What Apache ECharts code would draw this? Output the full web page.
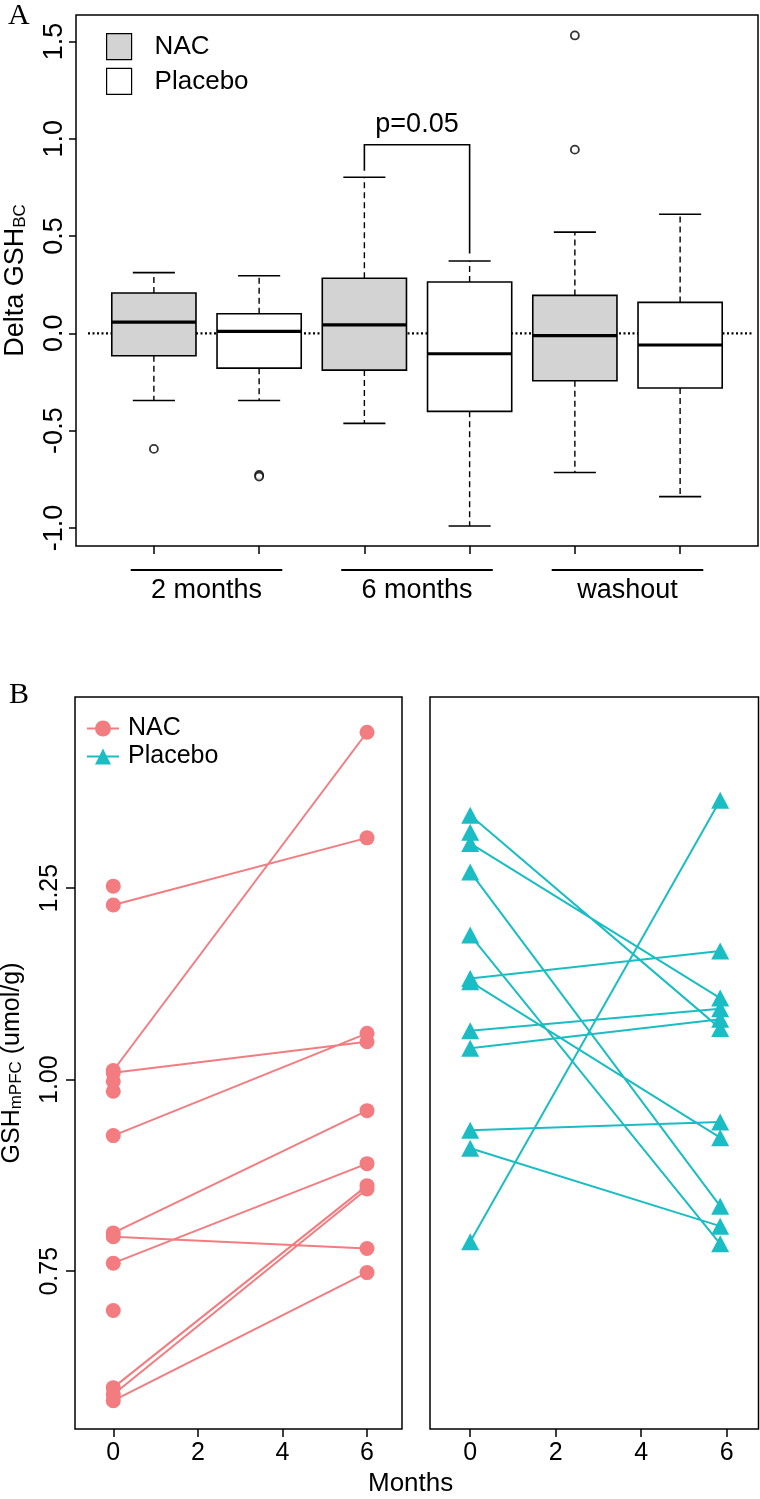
<!DOCTYPE html>
<html><head><meta charset="utf-8">
<script src="https://cdn.jsdelivr.net/npm/echarts@6/dist/echarts.min.js"></script>
<style>html,body{margin:0;padding:0;background:#fff}#c{width:760px;height:1499px}</style>
</head><body><div id="c"></div>
<script>
// ---------- Panel A data ----------
const groups = ['2 months', '6 months', 'washout'];
// [lower whisker, Q1, median, Q3, upper whisker]
const nacBox = [
  [-0.345, -0.115, 0.058, 0.207, 0.312],
  [-0.463, -0.189, 0.043, 0.283, 0.802],
  [-0.715, -0.244, -0.012, 0.195, 0.520]
];
const placeboBox = [
  [-0.345, -0.179, 0.010, 0.101, 0.296],
  [-0.990, -0.401, -0.105, 0.264, 0.372],
  [-0.839, -0.281, -0.060, 0.159, 0.612]
];
const nacOutliers = [[-0.594], [], [1.531, 0.944]];
const placeboOutliers = [[-0.728, -0.736], [], []];
const yTicksA = [-1.0, -0.5, 0.0, 0.5, 1.0, 1.5];
const pLabel = 'p=0.05';
const pGroup = 1;                 // 6 months
const pBracket = [0.969, 0.836, 0.41]; // top, left end, right end

// ---------- Panel B data ----------
const monthTicks = [0, 2, 4, 6];
const yTicksB = [0.75, 1.00, 1.25];
const nacStartMonth = 0, nacEndMonth = 6;
const nacStart = [1.228, 1.012, 1.009, 0.927, 0.800, 0.795, 0.7605, 0.598, 0.589, 0.581];
const nacEnd   = [1.3157, 1.4536, 1.0496, 1.0605, 0.9596, 0.7796, 0.8904, 0.8617, 0.8574, 0.7482];
const nacBaselineOnly = [1.2527, 0.998, 0.985, 0.6987];
const placeboStartMonth = 0, placeboEndMonth = 5.85;
const placeboStart = [1.3453, 1.3084, 1.2713, 1.1888, 1.132, 1.128, 1.064, 1.041, 0.934, 0.9105, 0.7886];
const placeboEnd   = [1.067, 1.1066, 0.8349, 0.7857, 1.1679, 0.9243, 1.0926, 1.0788, 0.9448, 0.8088, 1.3649];
const placeboBaselineOnly = [1.3231];

// ---------- styling ----------
const F = '"Liberation Sans", Arial, Helvetica, sans-serif';
const SERIF = '"Liberation Serif", "Times New Roman", serif';
const NAC_COL = '#F27C80';
const PLA_COL = '#1ABDC3';
const NAC_FILL = '#d3d3d3';

const nacPos = i => 2 * i + 1;
const plaPos = i => 2 * i + 2;

function boxRender(fill) {
  return function (params, api) {
    const x = api.value(0);
    const lo = api.value(1), q1 = api.value(2), md = api.value(3), q3 = api.value(4), hi = api.value(5);
    const c = (a, b) => api.coord([a, b]);
    const half = 0.4, capHalf = 0.2;
    const dash = { stroke: '#000', lineWidth: 1.4, lineDash: [6, 4], fill: null };
    const solid = { stroke: '#000', lineWidth: 1.6, fill: null };
    const ln = (p1, p2, st) => ({ type: 'line', shape: { x1: p1[0], y1: p1[1], x2: p2[0], y2: p2[1] }, style: st });
    const tl = c(x - half, q3), br = c(x + half, q1);
    return {
      type: 'group',
      children: [
        ln(c(x, q3), c(x, hi), dash),
        ln(c(x, q1), c(x, lo), dash),
        ln(c(x - capHalf, hi), c(x + capHalf, hi), solid),
        ln(c(x - capHalf, lo), c(x + capHalf, lo), solid),
        { type: 'rect', shape: { x: tl[0], y: tl[1], width: br[0] - tl[0], height: br[1] - tl[1] },
          style: { fill: fill, stroke: '#000', lineWidth: 1.6 } },
        ln(c(x - half, md), c(x + half, md), { stroke: '#000', lineWidth: 3.2 })
      ]
    };
  };
}

function pairData(startM, endM, starts, ends, singles) {
  const d = [];
  starts.forEach((s, i) => { d.push([startM, s]); d.push([endM, ends[i]]); d.push([startM, '-']); });
  singles.forEach(s => { d.push([startM, s]); d.push([startM, '-']); });
  return d;
}

const outlierData = [];
nacOutliers.forEach((arr, i) => arr.forEach(v => outlierData.push([nacPos(i), v])));
placeboOutliers.forEach((arr, i) => arr.forEach(v => outlierData.push([plaPos(i), v])));

const chart = echarts.init(document.getElementById('c'), null, { renderer: 'canvas' });

const tickLabel = (size) => ({ fontSize: size, fontFamily: F, color: '#000' });
const noLine = { show: false, onZero: false };
const gridBase = { show: true, borderColor: '#000', borderWidth: 1.5, backgroundColor: 'transparent',
  containLabel: false, outerBoundsMode: 'none' };

const option = {
  animation: false,
  backgroundColor: '#fff',
  grid: [
    { ...gridBase, left: 76, top: 15, width: 682, height: 531 },
    { ...gridBase, left: 75, top: 697, width: 327, height: 732 },
    { ...gridBase, left: 430, top: 697, width: 328.5, height: 732 }
  ],
  xAxis: [
    { gridIndex: 0, type: 'value', min: 0.26, max: 6.74, position: 'bottom',
      axisLine: noLine, splitLine: { show: false },
      axisTick: { show: true, length: 8, lineStyle: { color: '#000', width: 1.5 }, customValues: [1, 2, 3, 4, 5, 6] },
      axisLabel: { show: true, margin: 31, customValues: [1.5, 3.5, 5.5],
        formatter: v => groups[Math.round((v - 1.5) / 2)], ...tickLabel(27) } },
    { gridIndex: 1, type: 'value', min: -0.905, max: 6.827, position: 'bottom',
      axisLine: noLine, splitLine: { show: false },
      axisTick: { show: true, length: 8, lineStyle: { color: '#000', width: 1.5 }, customValues: monthTicks },
      axisLabel: { show: true, margin: 12, customValues: monthTicks, formatter: v => String(v), ...tickLabel(25) } },
    { gridIndex: 2, type: 'value', min: -0.941, max: 6.747, position: 'bottom',
      axisLine: noLine, splitLine: { show: false },
      axisTick: { show: true, length: 8, lineStyle: { color: '#000', width: 1.5 }, customValues: monthTicks },
      axisLabel: { show: true, margin: 12, customValues: monthTicks, formatter: v => String(v), ...tickLabel(25) } }
  ],
  yAxis: [
    { gridIndex: 0, type: 'value', min: -1.093, max: 1.636, position: 'left',
      axisLine: noLine, splitLine: { show: false },
      axisTick: { show: true, length: 7, lineStyle: { color: '#000', width: 1.5 }, customValues: yTicksA },
      axisLabel: { show: true, rotate: 90, margin: 8, customValues: yTicksA, formatter: v => v.toFixed(1), ...tickLabel(27) },
      name: '{a|Delta GSH}{s|BC}', nameLocation: 'middle', nameRotate: 90, nameGap: 47,
      nameTextStyle: { rich: {
        a: { fontSize: 27, fontFamily: F, color: '#000', verticalAlign: 'bottom', lineHeight: 30 },
        s: { fontSize: 17, fontFamily: F, color: '#000', verticalAlign: 'bottom', lineHeight: 14 } } } },
    { gridIndex: 1, type: 'value', min: 0.544, max: 1.4996, position: 'left',
      axisLine: noLine, splitLine: { show: false },
      axisTick: { show: true, length: 9, lineStyle: { color: '#000', width: 1.5 }, customValues: yTicksB },
      axisLabel: { show: true, rotate: 90, margin: 12, customValues: yTicksB, formatter: v => v.toFixed(2), ...tickLabel(25) },
      name: '{a|GSH}{s|mPFC}{a| (umol/g)}', nameLocation: 'middle', nameRotate: 90, nameGap: 50,
      nameTextStyle: { rich: {
        a: { fontSize: 25, fontFamily: F, color: '#000', verticalAlign: 'bottom', lineHeight: 30 },
        s: { fontSize: 17, fontFamily: F, color: '#000', verticalAlign: 'bottom', lineHeight: 14 } } } },
    { gridIndex: 2, type: 'value', min: 0.544, max: 1.4996, position: 'left',
      axisLine: noLine, splitLine: { show: false }, axisTick: { show: false }, axisLabel: { show: false } }
  ],
  legend: [
    { data: [
        { name: 'NAC (A)', icon: 'rect', itemStyle: { color: NAC_FILL, borderColor: '#000', borderWidth: 1.2 } },
        { name: 'Placebo (A)', icon: 'rect', itemStyle: { color: '#fff', borderColor: '#000', borderWidth: 1.2 } }
      ],
      orient: 'vertical', left: 106, top: 33, itemWidth: 25, itemHeight: 26, itemGap: 7.6, padding: 0,
      selectedMode: false, formatter: n => n.replace(' (A)', ''),
      textStyle: { fontSize: 26, fontFamily: F, color: '#000', lineHeight: 26, padding: [0, 0, 0, 18] } },
    { data: ['NAC', 'Placebo'],
      orient: 'vertical', left: 86, top: 716, itemWidth: 32, itemHeight: 20, itemGap: 3, padding: 0,
      selectedMode: false,
      textStyle: { fontSize: 25, fontFamily: F, color: '#000', lineHeight: 25, padding: [0, 0, 0, 4] } }
  ],
  series: [
    { type: 'custom', name: 'zero', xAxisIndex: 0, yAxisIndex: 0, z: 1, silent: true,
      data: [[0]],
      renderItem: (params, api) => {
        const cs = params.coordSys;
        const y = api.coord([1, api.value(0)])[1];
        return { type: 'line', shape: { x1: cs.x + 12, y1: y, x2: cs.x + cs.width - 6, y2: y },
          style: { stroke: '#000', lineWidth: 2.4, lineDash: [2, 2.5] } };
      } },
    { type: 'custom', name: 'NAC (A)', xAxisIndex: 0, yAxisIndex: 0, z: 3,
      itemStyle: { color: NAC_FILL },
      encode: { x: 0, y: [1, 2, 3, 4, 5] },
      data: nacBox.map((b, i) => [nacPos(i), ...b]),
      renderItem: boxRender(NAC_FILL) },
    { type: 'custom', name: 'Placebo (A)', xAxisIndex: 0, yAxisIndex: 0, z: 3,
      itemStyle: { color: '#fff' },
      encode: { x: 0, y: [1, 2, 3, 4, 5] },
      data: placeboBox.map((b, i) => [plaPos(i), ...b]),
      renderItem: boxRender('#fff') },
    { type: 'scatter', name: 'outliers', xAxisIndex: 0, yAxisIndex: 0, z: 4,
      symbol: 'circle', symbolSize: 8,
      itemStyle: { color: '#fff', borderColor: '#000', borderWidth: 1.8 },
      data: outlierData },
    { type: 'custom', name: 'bracket', xAxisIndex: 0, yAxisIndex: 0, z: 4, silent: true,
      data: [[nacPos(pGroup), plaPos(pGroup), ...pBracket]],
      renderItem: (params, api) => {
        const x1 = api.value(0), x2 = api.value(1), top = api.value(2), e1 = api.value(3), e2 = api.value(4);
        const a = api.coord([x1, e1]), b = api.coord([x1, top]), cc = api.coord([x2, top]), d = api.coord([x2, e2]);
        return { type: 'group', children: [
          { type: 'polyline', shape: { points: [a, b, cc, d] }, style: { stroke: '#000', lineWidth: 1.6, fill: null } },
          { type: 'text', style: { text: pLabel, x: (b[0] + cc[0]) / 2, y: b[1] - 7, align: 'center', verticalAlign: 'bottom',
            font: '27px ' + F, fill: '#000' } }
        ] };
      } },
    { type: 'custom', name: 'groupLines', xAxisIndex: 0, yAxisIndex: 0, z: 4, silent: true,
      data: groups.map((g, i) => [nacPos(i) + 0.5]),
      renderItem: (params, api) => {
        const cs = params.coordSys;
        const x = api.value(0);
        const l = api.coord([x - 0.72, 0])[0], r = api.coord([x + 0.72, 0])[0];
        const y = cs.y + cs.height + 24;
        return { type: 'line', shape: { x1: l, y1: y, x2: r, y2: y }, style: { stroke: '#000', lineWidth: 2.2 } };
      } },
    { type: 'line', name: 'NAC', xAxisIndex: 1, yAxisIndex: 1, z: 3,
      symbol: 'circle', symbolSize: 15, connectNulls: false,
      itemStyle: { color: NAC_COL, borderWidth: 0 },
      lineStyle: { color: NAC_COL, width: 2 },
      data: pairData(nacStartMonth, nacEndMonth, nacStart, nacEnd, nacBaselineOnly) },
    { type: 'line', name: 'Placebo', xAxisIndex: 2, yAxisIndex: 2, z: 3,
      symbol: 'triangle', symbolSize: [18, 17], connectNulls: false,
      itemStyle: { color: PLA_COL, borderWidth: 0 },
      lineStyle: { color: PLA_COL, width: 2 },
      data: pairData(placeboStartMonth, placeboEndMonth, placeboStart, placeboEnd, placeboBaselineOnly) }
  ],
  graphic: [
    { type: 'text', left: 8, top: 1, style: { text: 'A', font: '30px ' + SERIF, fill: '#000' } },
    { type: 'text', left: 9, top: 680, style: { text: 'B', font: '30px ' + SERIF, fill: '#000' } },
    { type: 'text', left: 368, top: 1471, style: { text: 'Months', font: '26px ' + F, fill: '#000' } }
  ]
};
chart.setOption(option);
</script>
</body></html>
